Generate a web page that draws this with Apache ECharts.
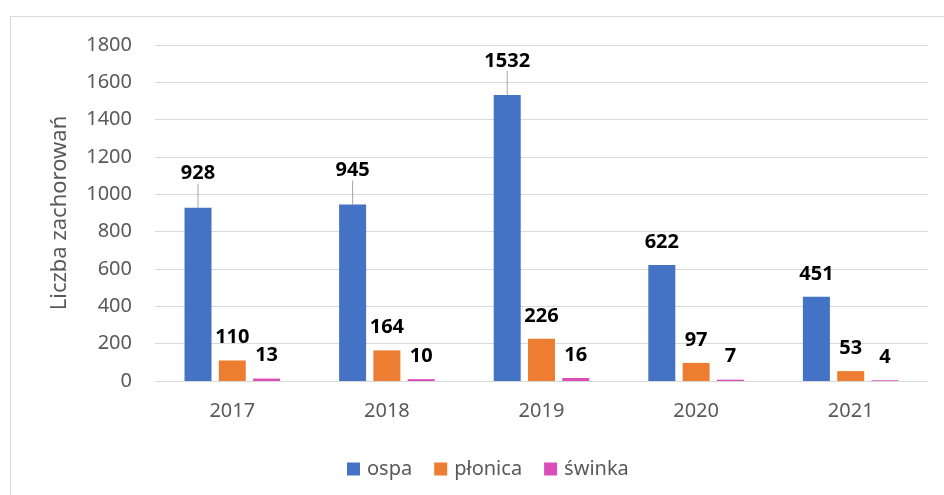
<!DOCTYPE html>
<html>
<head>
<meta charset="utf-8">
<script src="https://cdn.jsdelivr.net/npm/echarts@6/dist/echarts.min.js"></script>
<style>
html,body{margin:0;padding:0;background:#fff;}
#chart{width:944px;height:495px;}
</style>
</head>
<body>
<div id="chart"></div>
<script>
var categories = ['2017', '2018', '2019', '2020', '2021'];
var ospa = [928, 945, 1532, 622, 451];
var plonica = [110, 164, 226, 97, 53];
var swinka = [13, 10, 16, 7, 4];
var seriesNames = ['ospa', 'płonica', 'świnka'];
var yTicks = [0, 200, 400, 600, 800, 1000, 1200, 1400, 1600, 1800];
var leaderIdx = [0, 1, 2];

var FONT = 'Noto Sans';
var GRAY = '#595959';

function withLeaders(values, idxs) {
  return values.map(function (v, i) {
    if (idxs.indexOf(i) >= 0) {
      return { value: v, labelLine: { show: true } };
    }
    return { value: v };
  });
}

var labelStyle = {
  show: true,
  position: 'top',
  distance: 13,
  color: '#000',
  fontFamily: FONT,
  fontWeight: 'bold',
  fontSize: 20
};

function mkSeries(name, data, color, leaders) {
  return {
    name: name,
    type: 'bar',
    data: leaders ? withLeaders(data, leaderIdx) : data,
    barWidth: 27,
    barGap: '27%',
    itemStyle: { color: color },
    label: labelStyle,
    labelLine: { show: false, lineStyle: { color: '#a6a6a6', width: 1 } },
    labelLayout: leaders ? function (p) {
      if (leaderIdx.indexOf(p.dataIndex) >= 0) return { dy: -11 };
      return {};
    } : undefined
  };
}

var chart = echarts.init(document.getElementById('chart'), null, { renderer: 'canvas' });
chart.setOption({
  animation: false,
  backgroundColor: '#fff',
  textStyle: { fontFamily: FONT },
  graphic: [{
    type: 'rect',
    shape: { x: 10.5, y: 16.5, width: 1200, height: 1000 },
    style: { fill: 'none', stroke: '#d9d9d9', lineWidth: 1 },
    silent: true
  }],
  grid: { left: 155, right: 16, top: 45, bottom: 114, containLabel: false },
  legend: {
    data: seriesNames,
    top: 454,
    left: 342,
    itemWidth: 13,
    itemHeight: 13,
    itemGap: 22,
    icon: 'rect',
    textStyle: { color: GRAY, fontSize: 20, fontFamily: FONT, padding: [0, 0, 0, 2] }
  },
  xAxis: {
    type: 'category',
    data: categories,
    axisLine: { lineStyle: { color: '#d9d9d9', width: 1 } },
    axisTick: { show: false },
    axisLabel: { color: GRAY, fontSize: 20, fontFamily: FONT, margin: 20 }
  },
  yAxis: {
    type: 'value',
    min: yTicks[0],
    max: yTicks[yTicks.length - 1],
    interval: yTicks[1] - yTicks[0],
    name: 'Liczba zachorowań',
    nameLocation: 'middle',
    nameGap: 84,
    nameTextStyle: { color: GRAY, fontSize: 22, fontFamily: FONT },
    axisLine: { show: false },
    axisTick: { show: false },
    axisLabel: {
      color: GRAY, fontSize: 20, fontFamily: FONT, margin: 23,
      formatter: function (v) { return String(v); }
    },
    splitLine: { lineStyle: { color: '#d9d9d9', width: 1 } }
  },
  series: [
    mkSeries(seriesNames[0], ospa, '#4472C4', true),
    mkSeries(seriesNames[1], plonica, '#ED7D31', false),
    mkSeries(seriesNames[2], swinka, '#DB4DB8', false)
  ]
});
</script>
</body>
</html>
